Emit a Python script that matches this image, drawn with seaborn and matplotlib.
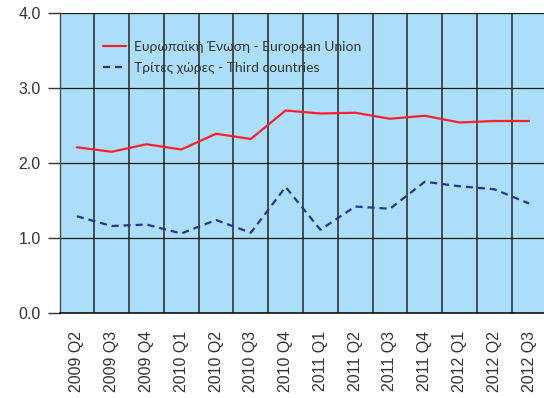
import matplotlib
matplotlib.use("Agg")
import matplotlib.pyplot as plt
import seaborn as sns
import pandas as pd
import numpy as np

quarters = ["2009 Q2", "2009 Q3", "2009 Q4", "2010 Q1", "2010 Q2", "2010 Q3",
            "2010 Q4", "2011 Q1", "2011 Q2", "2011 Q3", "2011 Q4", "2012 Q1",
            "2012 Q2", "2012 Q3"]
eu_values = [2.21, 2.15, 2.25, 2.18, 2.39, 2.32, 2.70, 2.66, 2.67, 2.59,
             2.63, 2.54, 2.56, 2.56]
third_values = [1.29, 1.16, 1.18, 1.06, 1.24, 1.07, 1.68, 1.11, 1.42, 1.39,
                1.75, 1.69, 1.65, 1.46]
eu_label = "Ευρωπαϊκή Ένωση - European Union"
third_label = "Τρίτες χώρες - Third countries"
y_ticks = [0.0, 1.0, 2.0, 3.0, 4.0]

sns.set_style("white")
plt.rcParams["font.family"] = ["Liberation Sans", "DejaVu Sans"]

pos = np.arange(len(quarters))
df = pd.DataFrame({"pos": pos, "eu": eu_values, "third": third_values})

fig = plt.figure(figsize=(5.44, 3.98), dpi=100)
ax = fig.add_axes([59.5 / 544, 1 - 313 / 398, 487 / 544, 300 / 398])
ax.set_facecolor("#abdff9")

sns.lineplot(data=df, x="pos", y="eu", ax=ax, color="#ff1f2a", linewidth=1.6,
             label=eu_label)
sns.lineplot(data=df, x="pos", y="third", ax=ax, color="#2e3192", linewidth=1.6,
             linestyle=(0, (3.2, 2.2)), label=third_label)

ax.set_xlim(-0.5, len(quarters) - 0.5)
ax.set_ylim(0, 4.0)
ax.set_xticks(pos)
ax.set_xticklabels(quarters, rotation=90, fontsize=11.5, color="#333333")
ax.set_xticks(np.arange(len(quarters)) + 0.5, minor=True)
ax.set_yticks(y_ticks)
ax.set_yticklabels([f"{v:.1f}" for v in y_ticks], fontsize=11.5, color="#333333")
ax.tick_params(axis="x", which="both", length=0, pad=13)
ax.tick_params(axis="y", length=8.5, width=1.0, color="#333333", pad=5, left=True)
ax.set_xlabel("")
ax.set_ylabel("")

ax.grid(False)
ax.xaxis.grid(True, which="minor", color="#333333", linewidth=1.2, zorder=1)
ax.yaxis.grid(True, which="major", color="#1a1a1a", linewidth=0.9, zorder=1)
ax.set_axisbelow(True)

for side in ["top", "right"]:
    ax.spines[side].set_visible(False)
ax.spines["left"].set_color("#4a4a4a")
ax.spines["left"].set_linewidth(1.0)
ax.spines["bottom"].set_color("#111111")
ax.spines["bottom"].set_linewidth(1.2)

leg = ax.legend(loc="upper left", bbox_to_anchor=(0.077, 0.925), frameon=False,
                prop={"family": ["Lato", "DejaVu Sans"], "size": 10},
                handlelength=1.7, handletextpad=0.6, labelspacing=0.65,
                borderaxespad=0)
for t in leg.get_texts():
    t.set_color("#333333")

fig.savefig("out.png", dpi=100)
